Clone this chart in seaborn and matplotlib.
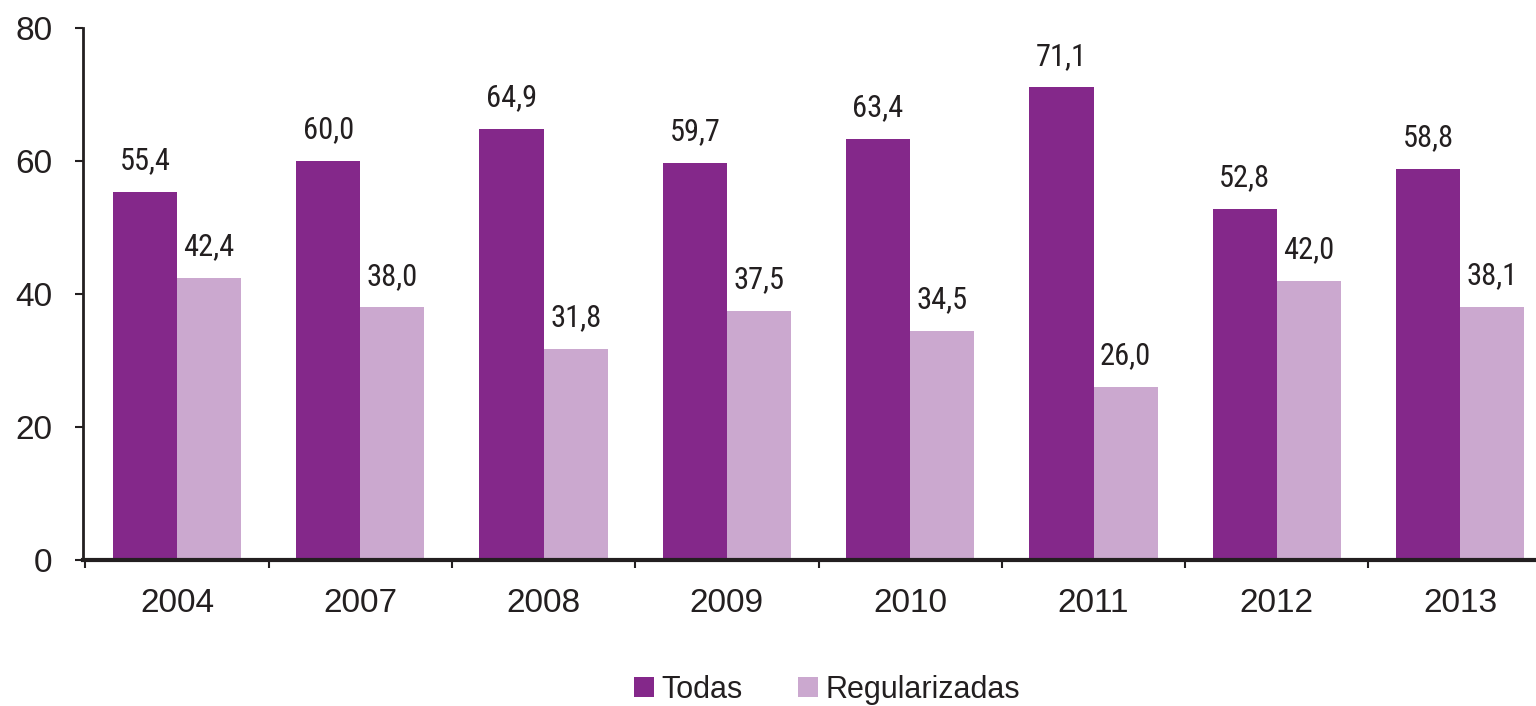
import pandas as pd
import matplotlib.pyplot as plt
import seaborn as sns

# Datos del gráfico
years = ['2004', '2007', '2008', '2009', '2010', '2011', '2012', '2013']
todas = [55.4, 60.0, 64.9, 59.7, 63.4, 71.1, 52.8, 58.8]
regularizadas = [42.4, 38.0, 31.8, 37.5, 34.5, 26.0, 42.0, 38.1]
series_names = ['Todas', 'Regularizadas']
colors = ['#84288A', '#CBA8CF']

df = pd.DataFrame({
    'year': years * 2,
    'value': todas + regularizadas,
    'serie': [series_names[0]] * len(years) + [series_names[1]] * len(years),
})

sns.set_style('white')
plt.rcParams['font.family'] = ['Liberation Sans', 'DejaVu Sans']
narrow = ['Liberation Sans Narrow', 'Roboto Condensed', 'Archivo Narrow',
          'PT Sans Narrow', 'Open Sans Condensed', 'Liberation Sans', 'DejaVu Sans']
text_color = '#231F20'

fig = plt.figure(figsize=(15.36, 7.06), dpi=100)
ax = fig.add_axes([0.054, 0.207, 0.946, 0.753])

sns.barplot(data=df, x='year', y='value', hue='serie', palette=colors,
            width=0.7, saturation=1, linewidth=0, ax=ax, legend=True)

# Etiquetas de valor encima de cada barra
for container in ax.containers:
    labels = [f'{v:.1f}'.replace('.', ',') for v in container.datavalues]
    ax.bar_label(container, labels=labels, padding=12, fontsize=22,
                 family=narrow, color=text_color)

ax.set_ylim(0, 80)
ax.set_yticks([0, 20, 40, 60, 80])
ax.set_xlabel('')
ax.set_ylabel('')

# Ticks del eje x en los límites entre grupos
ax.set_xticks([i - 0.5 for i in range(len(years) + 1)], minor=True)
ax.set_xlim(-0.513, 7.414)
ax.tick_params(axis='x', which='major', length=0, labelsize=24, pad=20, labelcolor=text_color)
ax.tick_params(axis='x', which='minor', length=6, width=1.5, color=text_color, direction='out')
ax.tick_params(axis='y', length=6, width=1.5, labelsize=24, pad=16, color=text_color,
               labelcolor=text_color, direction='out')
ax.xaxis.set_tick_params(which='minor', bottom=True)
ax.yaxis.set_tick_params(left=True)

for side in ['top', 'right']:
    ax.spines[side].set_visible(False)
ax.spines['left'].set_color(text_color)
ax.spines['left'].set_linewidth(2)
ax.spines['bottom'].set_color(text_color)
ax.spines['bottom'].set_linewidth(3)

handles, labels = ax.get_legend_handles_labels()
ax.legend(handles, labels, loc='lower center', bbox_to_anchor=(0.512, -0.296),
          ncol=2, frameon=False, handlelength=0.65, handleheight=0.65,
          handletextpad=0.25, columnspacing=1.8, borderaxespad=0,
          labelcolor=text_color,
          prop={'family': ['Liberation Sans', 'DejaVu Sans'], 'size': 22})

fig.savefig('out.png', dpi=100)
